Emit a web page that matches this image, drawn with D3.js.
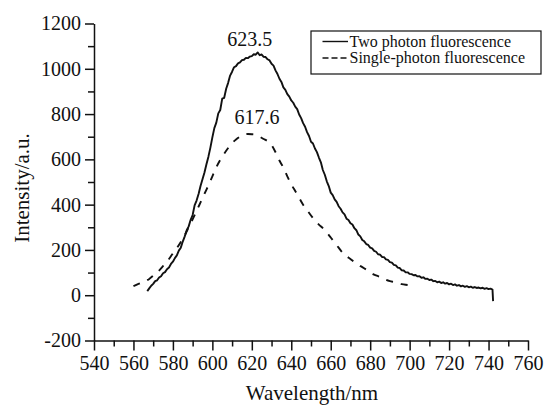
<!DOCTYPE html>
<html><head><meta charset="utf-8">
<script src="https://cdn.jsdelivr.net/npm/d3@7"></script>
<style>
body{margin:0;background:#fff}
svg{display:block}
svg text{font-family:"Liberation Serif","Times New Roman",serif !important;fill:#111}
</style>
</head><body>
<svg id="chart" width="544" height="406"></svg>
<script>
// ---------- data ----------
const xTickValues = [540,560,580,600,620,640,660,680,700,720,740,760];
const xMinorTicks = [550,570,590,610,630,650,670,690,710,730,750];
const yTickValues = [-200,0,200,400,600,800,1000,1200];
const yMinorTicks = [-100,100,300,500,700,900,1100];
const seriesNames = ["Two photon fluorescence","Single-photon fluorescence"];
const peakLabels = ["623.5","617.6"];
const peakWavelengths = [623.5,617.6];

const twoPhotonWavelength = [
567,568,569,570,571,572,573,574,575,576,
577,578,579,580,581,582,583,584,585,586,
587,588,589,590,591,592,593,594,595,596,
597,598,599,600,601,602,603,604,605,606,
607,608,609,610,611,612,613,614,615,616,
617,618,619,620,621,622,623,624,625,626,
627,628,629,630,631,632,633,634,635,636,
637,638,639,640,641,642,643,644,645,646,
647,648,649,650,651,652,653,654,655,656,
657,658,659,660,661,662,663,664,665,666,
667,668,669,670,671,672,673,674,675,676,
677,678,679,680,681,682,683,684,685,686,
687,688,689,690,691,692,693,694,695,696,
697,698,699,700,701,702,703,704,705,706,
707,708,709,710,711,712,713,714,715,716,
717,718,719,720,721,722,723,724,725,726,
727,728,729,730,731,732,733,734,735,736,
737,738,739,740,741,742,742.3];
const twoPhotonIntensity = [
18,30,42,50,62,66,78,84,97,102,
115,122,138,148,164,176,197,210,237,260,
287,304,333,354,397,418,447,482,512,542,
578,612,652,697,738,762,803,818,868,872,
912,938,970,987,1007,1012,1024,1028,1038,1040,
1048,1047,1054,1056,1064,1062,1072,1060,1063,1053,
1052,1042,1037,1022,1014,993,977,956,942,918,
907,888,877,860,850,833,822,798,782,760,
744,720,703,678,670,648,632,608,587,553,
532,503,482,453,442,423,412,393,382,366,
357,338,332,318,312,296,287,268,260,244,
238,226,222,210,207,196,192,181,179,169,
168,158,156,146,144,134,132,122,120,110,
109,101,101,94,93,88,89,83,84,77,
79,72,73,67,69,62,63,57,60,54,
57,51,54,48,51,45,48,42,45,39,
42,37,40,35,38,33,36,32,34,30,
33,28,31,27,29,25,-26];

const singlePhotonWavelength = [
560,562,564,566,568,570,572,574,576,578,
580,582,584,586,588,590,592,594,596,598,
600,602,604,606,608,610,612,614,616,618,
620,622,624,626,628,630,632,634,636,638,
640,642,644,646,648,650,652,654,656,658,
660,662,664,666,668,670,672,674,676,678,
680,682,684,686,688,690,692,694,696,698,700];
const singlePhotonIntensity = [
40,48,55,62,72,86,100,118,140,160,
185,208,235,265,300,335,372,410,448,485,
525,565,598,625,650,672,688,700,708,712,
711,708,700,690,680,663,632,595,563,525,
490,460,430,400,376,352,330,312,296,277,
255,232,210,188,172,160,146,134,124,113,
101,91,84,77,68,62,58,54,49,46,44];

// ---------- chart ----------
const svg = d3.select("#chart");
const x = d3.scaleLinear().domain([540,760]).range([94,528]);
const y = d3.scaleLinear().domain([-200,1200]).range([340.5,23.5]);
const ink = "#111";
const FONT = '"Liberation Serif","Times New Roman",serif';
const fmt = d => String(d);

function styleAxis(g, size){
  g.attr("font-family", FONT).attr("font-size", size);
  g.selectAll(".domain").attr("stroke", ink).attr("stroke-width", 1.5);
  g.selectAll(".tick line").attr("stroke", ink).attr("stroke-width", 1.5);
  g.selectAll("text").attr("font-family", FONT).attr("font-size", size).attr("fill", ink);
}

// x minor ticks
const gxm = svg.append("g").attr("transform", `translate(0,${y(-200)})`)
  .call(d3.axisBottom(x).tickValues(xMinorTicks).tickSize(6).tickFormat(""));
styleAxis(gxm, 20);
gxm.select(".domain").remove();
// x major
const gx = svg.append("g").attr("transform", `translate(0,${y(-200)})`)
  .call(d3.axisBottom(x).tickValues(xTickValues).tickSize(10).tickSizeOuter(0).tickPadding(5).tickFormat(fmt));
styleAxis(gx, 20);

// y minor
const gym = svg.append("g").attr("transform", `translate(${x(540)},0)`)
  .call(d3.axisLeft(y).tickValues(yMinorTicks).tickSize(6).tickFormat(""));
styleAxis(gym, 20);
gym.select(".domain").remove();
// y major
const gy = svg.append("g").attr("transform", `translate(${x(540)},0)`)
  .call(d3.axisLeft(y).tickValues(yTickValues).tickSize(9).tickSizeOuter(0).tickPadding(4).tickFormat(fmt));
styleAxis(gy, 20);

// lines
const twoData = twoPhotonWavelength.map((w,i)=>[w, twoPhotonIntensity[i]]);
const singleData = singlePhotonWavelength.map((w,i)=>[w, singlePhotonIntensity[i]]);
const line = d3.line().x(d=>x(d[0])).y(d=>y(d[1]));
const smooth = d3.line().x(d=>x(d[0])).y(d=>y(d[1])).curve(d3.curveMonotoneX);

svg.append("path").datum(singleData).attr("d", smooth)
  .attr("fill","none").attr("stroke", ink).attr("stroke-width", 1.9)
  .attr("stroke-dasharray","7,8");
svg.append("path").datum(twoData).attr("d", line)
  .attr("fill","none").attr("stroke", ink).attr("stroke-width", 1.9)
  .attr("stroke-linejoin","round");

// peak annotations
const peakVals = [d3.max(twoPhotonIntensity), d3.max(singlePhotonIntensity)];
const offs = [[-9,-6],[10,-10]];
peakLabels.forEach((t,i)=>{
  svg.append("text").attr("x", x(peakWavelengths[i]) + offs[i][0])
    .attr("y", y(peakVals[i]) + offs[i][1])
    .attr("font-family", FONT)
    .attr("text-anchor","middle").attr("font-size", 20).text(t);
});

// axis titles
svg.append("text").attr("transform", `translate(29,188) rotate(-90)`)
  .attr("font-family", FONT)
  .attr("text-anchor","middle").attr("font-size", 21).text("Intensity/a.u.");
svg.append("text").attr("x", 312).attr("y", 400)
  .attr("font-family", FONT)
  .attr("text-anchor","middle").attr("font-size", 21).text("Wavelength/nm");

// legend
const lg = svg.append("g");
lg.append("rect").attr("x",311).attr("y",31).attr("width",230).attr("height",43)
  .attr("fill","#fff").attr("stroke", ink).attr("stroke-width",1.2);
const dashes = [null, "6,3"];
const rowY = [46.5, 63];
seriesNames.forEach((n,i)=>{
  lg.append("line").attr("x1",322.5).attr("x2",348).attr("y1",rowY[i]-5).attr("y2",rowY[i]-5)
    .attr("stroke", ink).attr("stroke-width",1.4).attr("stroke-dasharray", dashes[i]);
  lg.append("text").attr("x",349.5).attr("y",rowY[i]).attr("font-family", FONT)
    .attr("font-size",16).text(n);
});
</script>
</body></html>
